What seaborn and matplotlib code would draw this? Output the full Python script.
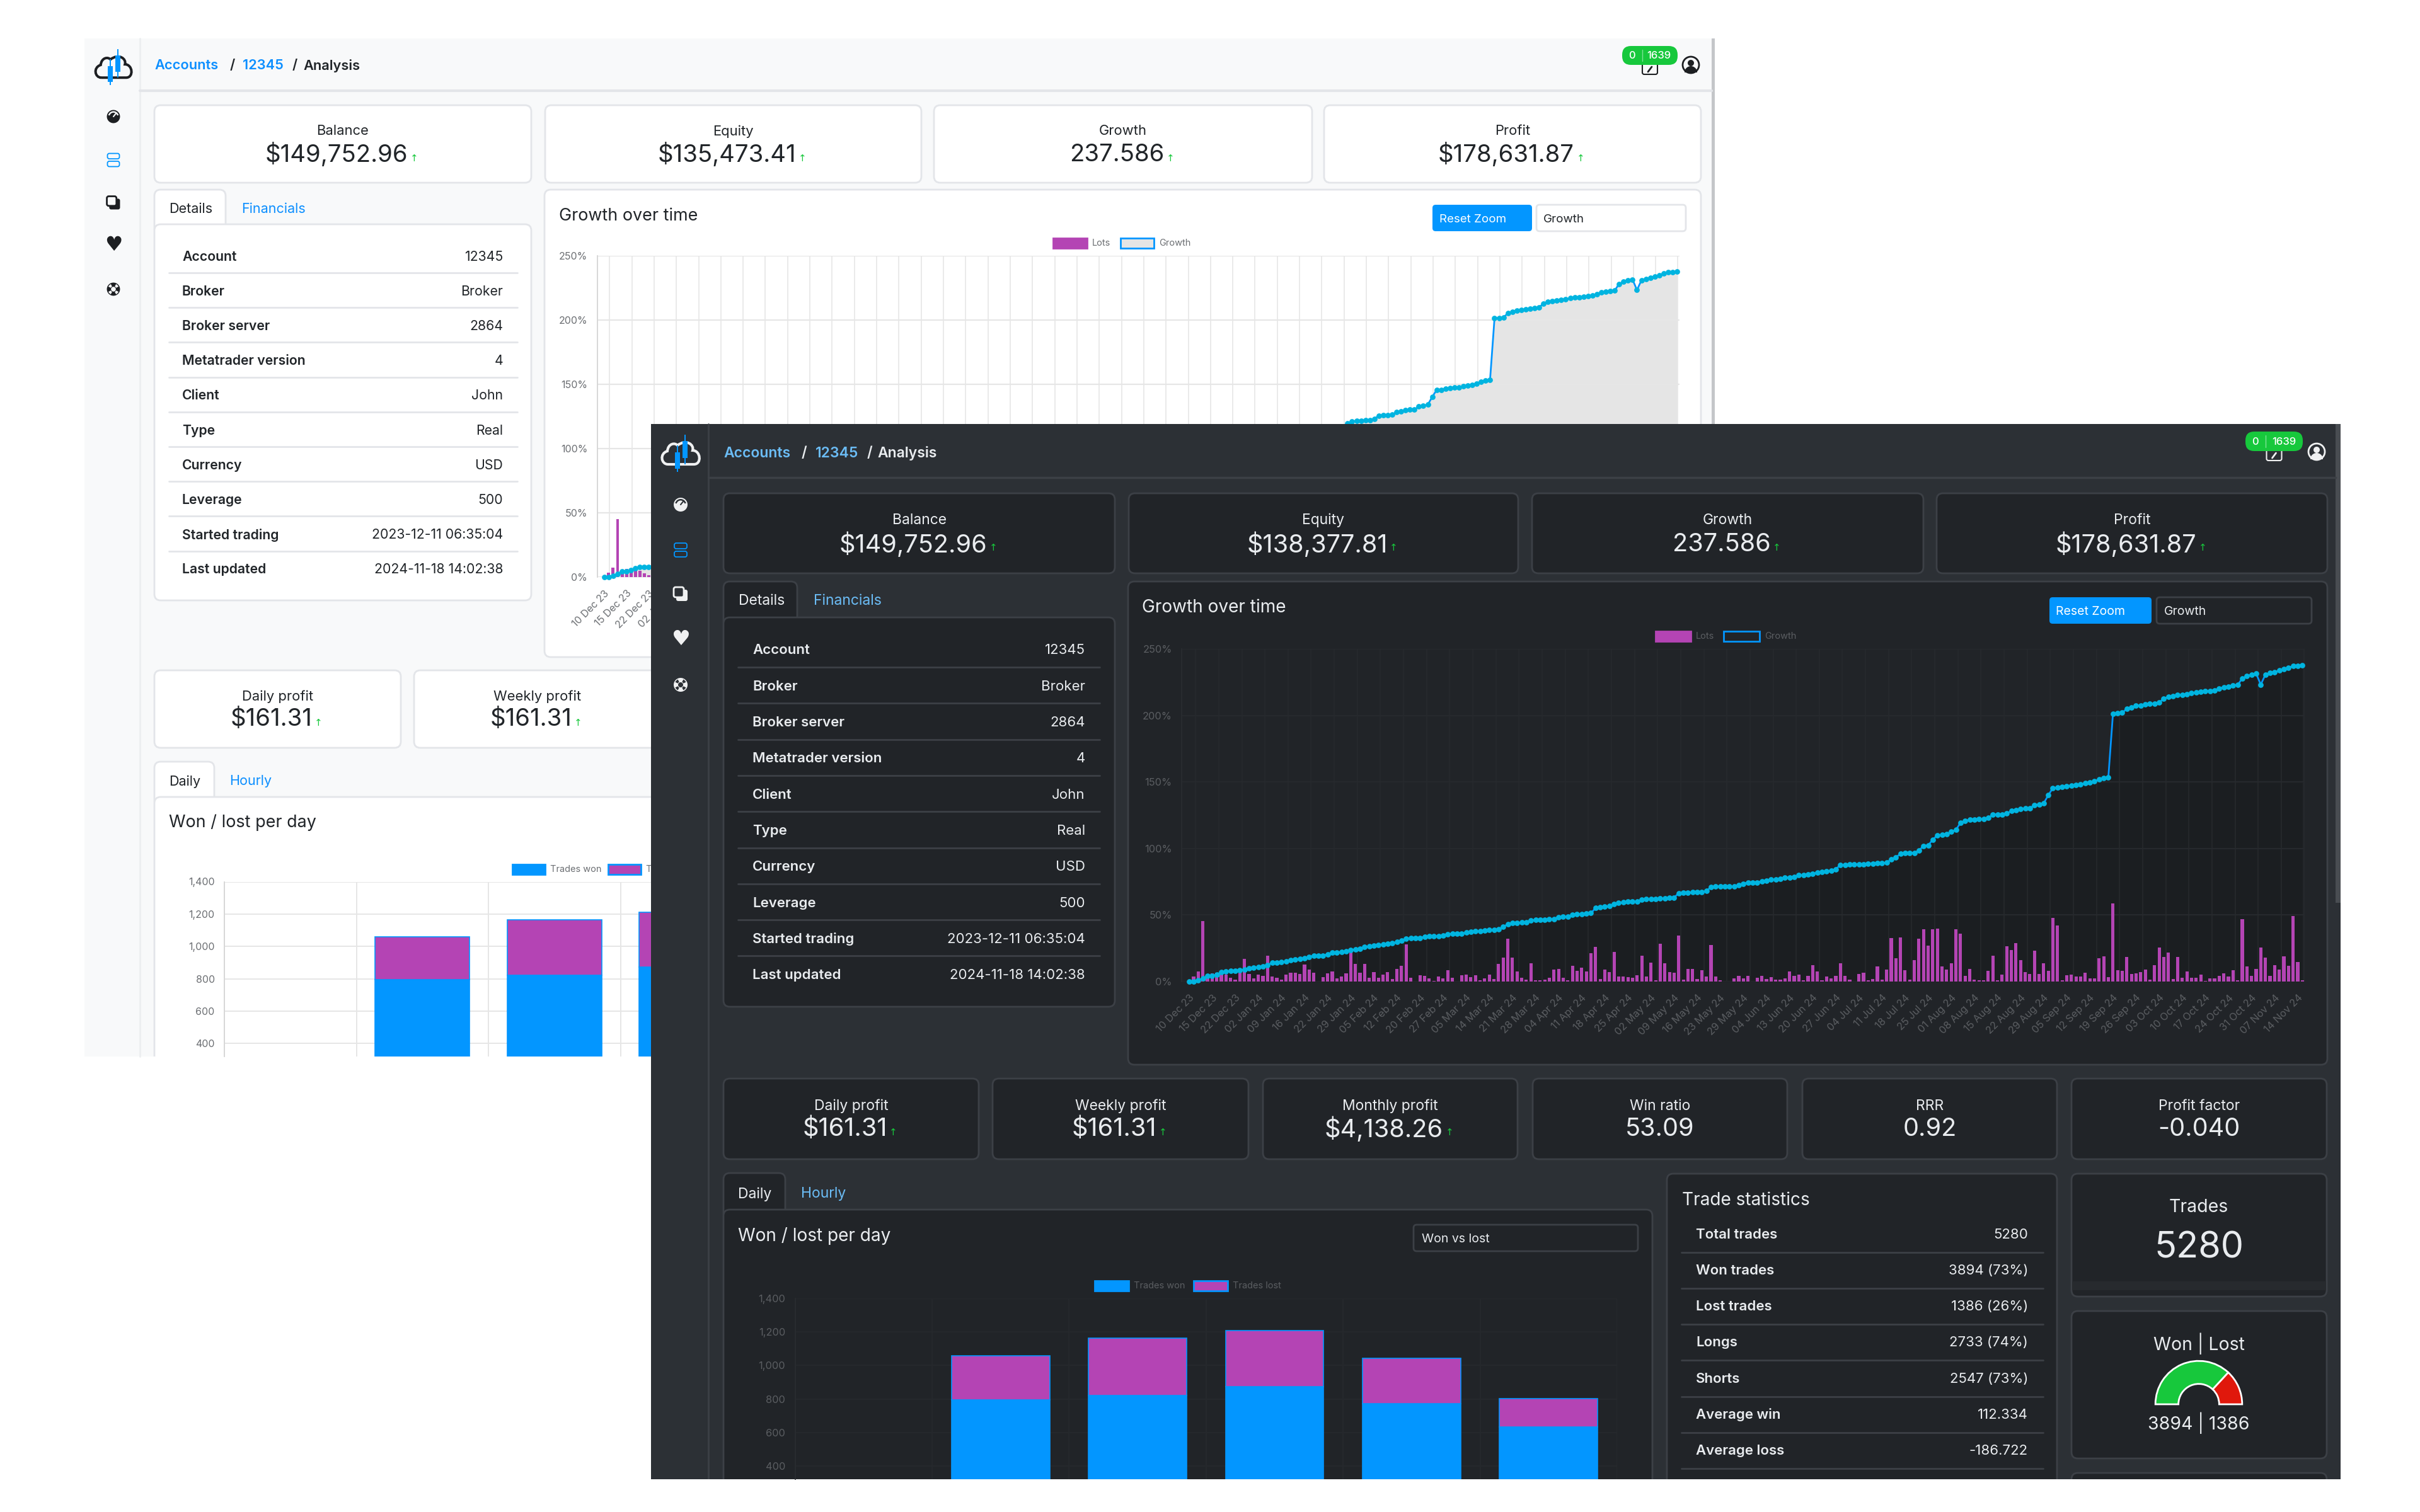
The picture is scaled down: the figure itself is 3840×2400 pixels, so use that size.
import numpy as np
import matplotlib
matplotlib.use('Agg')
import matplotlib.pyplot as plt
import seaborn as sns
from matplotlib.patches import FancyBboxPatch, Rectangle, Circle, Wedge, PathPatch
from matplotlib.path import Path

W, H = 3840, 2400

# Lots per trading day (read against the 0-250% scale of the chart)
lots = [
    0, 3.6, 7.4, 45.3, 3.5, 6.3, 6.8, 7.7, 5.0, 2.7,
    1.4, 6.6, 17.2, 5.7, 2.5, 5.4, 4.3, 19.6, 3.9, 2.7,
    1.6, 5.2, 6.5, 6.5, 5.7, 12.8, 8.8, 6.8, 0.1, 3.3,
    6.2, 7.4, 2.5, 3.8, 6.0, 21.9, 13.1, 6.5, 13.1, 2.7,
    6.9, 3.0, 5.2, 7.1, 1.7, 9.3, 11.7, 27.8, 2.8, 0.1,
    4.7, 4.1, 2.2, 0.3, 3.9, 2.2, 8.4, 2.7, 0.1, 4.6,
    5.4, 3.5, 4.9, 1.0, 2.5, 5.2, 1.7, 13.2, 17.8, 32.3,
    17.8, 7.6, 3.0, 1.3, 13.7, 0.8, 0.9, 1.6, 3.0, 8.8,
    9.6, 2.8, 0.9, 11.7, 7.9, 10.3, 7.4, 21.1, 26.2, 1.7,
    8.8, 7.1, 22.1, 3.6, 3.6, 3.3, 2.7, 4.9, 19.2, 3.6,
    14.0, 0.8, 28.2, 13.6, 6.9, 6.5, 34.7, 1.4, 9.3, 9.5,
    1.7, 8.5, 3.9, 27.6, 3.6, 1.1, 0, 0, 2.4, 4.3,
    2.5, 4.3, 0, 3.0, 4.4, 2.0, 3.5, 1.3, 1.3, 2.2,
    7.4, 4.2, 5.2, 0.8, 4.1, 12.4, 7.5, 1.1, 3.8, 2.2,
    4.1, 13.5, 4.4, 1.6, 0.1, 5.7, 6.4, 1.1, 1.7, 11.2,
    1.6, 9.1, 32.9, 17.6, 33.0, 8.6, 1.4, 15.9, 32.4, 39.2,
    27.0, 39.5, 40.0, 11.5, 9.0, 13.9, 39.3, 36.0, 4.2, 9.3,
    1.4, 1.1, 0.8, 8.2, 19.4, 0.9, 5.0, 26.7, 23.9, 29.1,
    15.9, 6.9, 5.7, 23.0, 5.8, 13.5, 7.9, 47.6, 42.1, 0.8,
    4.9, 5.3, 3.6, 3.6, 6.8, 2.4, 2.4, 17.3, 18.9, 3.1,
    58.5, 8.3, 7.9, 18.4, 5.8, 6.3, 7.1, 8.8, 1.4, 12.2,
    25.8, 18.7, 22.0, 1.7, 18.4, 2.7, 7.5, 3.0, 2.7, 5.3,
    0.6, 2.2, 2.2, 4.1, 6.0, 3.6, 8.6, 1.1, 47.0, 11.5,
    4.1, 9.7, 25.8, 17.8, 4.1, 12.1, 9.1, 18.9, 11.8, 49.1,
    14.9, 1.1,
]

# Growth in percent per trading day
growth = [
    0, 0.2, 1.0, 2.5, 4.2, 4.4, 5.2, 7.0, 7.7, 7.9,
    8.0, 8.3, 9.2, 10.0, 10.3, 11.0, 11.5, 12.3, 14.2, 14.3,
    14.5, 15.2, 16.3, 16.8, 17.0, 17.3, 18.4, 19.6, 19.2, 19.4,
    20.5, 21.7, 21.9, 22.3, 22.5, 23.9, 24.0, 24.4, 26.0, 26.3,
    27.0, 27.5, 27.9, 28.4, 28.9, 29.6, 31.0, 32.2, 32.5, 32.7,
    32.9, 33.5, 33.9, 34.0, 34.2, 34.5, 35.5, 36.0, 36.0, 36.2,
    36.8, 37.2, 37.8, 37.9, 38.4, 38.8, 38.9, 39.1, 41.0, 43.2,
    43.8, 44.0, 44.4, 44.5, 46.0, 46.2, 46.2, 46.5, 46.7, 47.1,
    48.5, 48.7, 48.8, 50.0, 50.5, 50.8, 51.2, 51.4, 55.2, 55.7,
    56.2, 56.6, 58.3, 59.0, 59.5, 59.9, 60.0, 60.3, 61.5, 61.8,
    62.0, 62.1, 62.3, 62.5, 62.9, 63.1, 66.4, 66.6, 66.8, 67.0,
    67.1, 67.3, 68.0, 71.1, 71.5, 71.5, 71.4, 71.3, 71.5, 72.3,
    73.5, 74.5, 74.5, 74.5, 75.5, 75.8, 76.5, 76.9, 77.0, 78.0,
    78.3, 78.8, 79.8, 80.0, 80.4, 81.1, 81.8, 82.2, 82.8, 83.4,
    84.5, 87.5, 87.8, 88.0, 88.0, 88.2, 88.3, 88.6, 88.7, 88.9,
    89.1, 89.4, 91.8, 93.3, 96.0, 96.7, 96.7, 96.8, 98.4, 102.0,
    102.4, 106.6, 110.0, 110.2, 110.7, 112.5, 114.0, 119.3, 120.8, 121.5,
    121.7, 122.0, 122.2, 123.0, 125.5, 125.7, 125.7, 126.2, 128.3, 129.0,
    129.7, 130.2, 130.3, 132.5, 133.2, 134.0, 140.0, 145.5, 145.7, 146.4,
    147.0, 147.2, 147.6, 148.3, 149.0, 149.5, 150.4, 152.0, 152.8, 153.5,
    201.3, 201.5, 202.0, 205.0, 206.2, 207.2, 207.6, 208.3, 208.8, 209.0,
    209.7, 212.6, 214.0, 214.4, 215.2, 215.6, 216.1, 216.8, 217.3, 217.7,
    218.2, 218.5, 218.9, 220.1, 221.3, 221.8, 222.5, 222.9, 227.9, 229.5,
    230.7, 231.4, 223.2, 230.7, 231.9, 232.6, 233.8, 234.7, 235.9, 237.0,
    237.3, 237.5,
]

date_labels = [
    '10 Dec 23', '15 Dec 23', '22 Dec 23', '02 Jan 24', '09 Jan 24', '16 Jan 24', '22 Jan 24',
    '29 Jan 24', '05 Feb 24', '12 Feb 24', '20 Feb 24', '27 Feb 24', '05 Mar 24', '14 Mar 24',
    '21 Mar 24', '28 Mar 24', '04 Apr 24', '11 Apr 24', '18 Apr 24', '25 Apr 24', '02 May 24',
    '09 May 24', '16 May 24', '23 May 24', '29 May 24', '04 Jun 24', '13 Jun 24', '20 Jun 24',
    '27 Jun 24', '04 Jul 24', '11 Jul 24', '18 Jul 24', '25 Jul 24', '01 Aug 24', '08 Aug 24',
    '15 Aug 24', '22 Aug 24', '29 Aug 24', '05 Sep 24', '12 Sep 24', '19 Sep 24', '26 Sep 24',
    '03 Oct 24', '10 Oct 24', '17 Oct 24', '24 Oct 24', '31 Oct 24', '07 Nov 24', '14 Nov 24',
]
growth_ticks = [0, 50, 100, 150, 200, 250]

# Won / lost per weekday (first slot is empty in the screenshot)
weekdays = ['Sun', 'Mon', 'Tue', 'Wed', 'Thu', 'Fri']
trades_won = [0, 793, 822, 873, 772, 634]
trades_lost = [0, 266, 342, 337, 270, 168]
count_ticks = [400, 600, 800, 1000, 1200, 1400]

# Won | Lost gauge
gauge_won = 3894
gauge_lost = 1386

detail_rows = [
    ('Account', '12345'), ('Broker', 'Broker'), ('Broker server', '2864'),
    ('Metatrader version', '4'), ('Client', 'John'), ('Type', 'Real'), ('Currency', 'USD'),
    ('Leverage', '500'), ('Started trading', '2023-12-11 06:35:04'),
    ('Last updated', '2024-11-18 14:02:38'),
]
stat_rows = [
    ('Total trades', '5280'), ('Won trades', '3894 (73%)'), ('Lost trades', '1386 (26%)'),
    ('Longs', '2733 (74%)'), ('Shorts', '2547 (73%)'), ('Average win', '112.334'),
    ('Average loss', '-186.722'),
]
light_top = [('Balance', '$149,752.96'), ('Equity', '$135,473.41'), ('Growth', '237.586'), ('Profit', '$178,631.87')]
dark_top = [('Balance', '$149,752.96'), ('Equity', '$138,377.81'), ('Growth', '237.586'), ('Profit', '$178,631.87')]
light_row2 = [('Daily profit', '$161.31', True), ('Weekly profit', '$161.31', True)]
dark_row2 = [('Daily profit', '$161.31', True), ('Weekly profit', '$161.31', True),
             ('Monthly profit', '$4,138.26', True), ('Win ratio', '53.09', False),
             ('RRR', '0.92', False), ('Profit factor', '-0.040', False)]

BLUE = '#0396ff'
PURPLE = '#b444b4'
CYAN = '#00b4e0'
GREEN = '#17c83c'
LIGHT = dict(page='#f8f9fa', card='#ffffff', border='#e3e5e9', text='#212529', link='#0d8fff',
             muted='#6c6f73', grid='#e6e6e6', axis='#d5d5d5', fg='#1d1f22', scroll='#c4c6c9', fill=0.1)
DARK = dict(page='#2c3035', card='#212428', border='#3c4046', text='#e9ecef', link='#6bbcf5',
            muted='#5b5e62', grid='#26292d', axis='#292c30', fg='#f0f1f2', scroll='#494d52', fill=0.16)

sns.set_theme(style='white')
plt.rcParams['font.family'] = ['Inter', 'DejaVu Sans']

fig = plt.figure(figsize=(W / 100, H / 100), dpi=100, facecolor='white')


def px_axes(x0, y0, x1, y1, zorder):
    ax = fig.add_axes([x0 / W, 1 - y1 / H, (x1 - x0) / W, (y1 - y0) / H], zorder=zorder)
    ax.set_facecolor('none')
    return ax


def canvas(zorder):
    ax = px_axes(0, 0, W, H, zorder)
    ax.set_xlim(0, W)
    ax.set_ylim(H, 0)
    ax.axis('off')
    return ax


def text(ax, x, y, s, size, color, ha='left', weight='normal'):
    return ax.text(x, y + 2.5, s, fontsize=size, color=color, ha=ha, va='center', fontweight=weight)


def box(ax, x0, y0, x1, y1, fc, ec='none', r=10, lw=2):
    ax.add_patch(FancyBboxPatch((x0, y0), x1 - x0, y1 - y0, boxstyle=f'round,pad=0,rounding_size={r}',
                                fc=fc, ec=ec, lw=lw))


def stat_card(ax, x0, y0, x1, y1, label, value, label_y, value_y, t, fs, arrow=True):
    box(ax, x0, y0, x1, y1, t['card'], t['border'])
    cx = (x0 + x1) / 2
    text(ax, cx, label_y, label, fs[0], t['text'], ha='center')
    vx = cx - 10 if arrow else cx
    v = text(ax, vx, value_y, value, fs[1], t['text'], ha='center')
    if arrow:
        bb = v.get_window_extent(fig.canvas.get_renderer())
        ax.text(bb.x1 + 10, value_y + 8, '\u2191', fontsize=11, color=GREEN, ha='center', va='center',
                family='DejaVu Sans')


def rows(ax, items, x_label, x_value, y_first, step, t, size):
    for i, (k, v) in enumerate(items):
        y = y_first + i * step - 2
        text(ax, x_label, y, k, size, t['text'], weight='semibold')
        text(ax, x_value, y, v, size, t['text'], ha='right')


def row_lines(ax, ys, x0, x1, t):
    for y in ys:
        ax.plot([x0, x1], [y, y], color=t['border'], lw=2)


def logo(ax, cx, cy, s, line):
    verts = [(-20, 19), (-31, 19), (-34, 2), (-21, -2), (-20, -14), (-9, -16), (-5, -11),
             (9, -22), (22, -12), (19, -3), (32, -3), (34, 19), (21, 19), (-20, 19)]
    verts = [(cx + a * s, cy + b * s) for a, b in verts]
    codes = [Path.MOVETO, Path.CURVE4, Path.CURVE4, Path.CURVE4, Path.CURVE4, Path.CURVE4, Path.CURVE4,
             Path.CURVE4, Path.CURVE4, Path.CURVE4, Path.CURVE4, Path.CURVE4, Path.CURVE4, Path.LINETO]
    ax.add_patch(PathPatch(Path(verts, codes), fc='none', ec=line, lw=3 * s))
    for dx, w0, b0, b1, w1 in [(-5, -11, 0, 26, 31), (7, -28, -18, 9, 19)]:
        ax.add_patch(Rectangle((cx + (dx - 1) * s, cy + w0 * s), 2 * s, (w1 - w0) * s, fc=BLUE, ec='none'))
        ax.add_patch(Rectangle((cx + (dx - 4) * s, cy + b0 * s), 8 * s, (b1 - b0) * s, fc=BLUE, ec='none'))


def side_icons(ax, x, ys, t, s):
    fg, bg = t['fg'], t['page']
    # gauge
    ax.add_patch(Circle((x, ys[0]), 11 * s, fc=fg, ec='none'))
    ax.add_patch(Wedge((x, ys[0]), 9 * s, 195, 345, width=2.5 * s, fc=bg, ec='none'))
    ax.plot([x, x + 4 * s], [ys[0], ys[0] - 5 * s], color=bg, lw=1.5)
    # two stacked rows
    for off in (-11, 2):
        box(ax, x - 10 * s, ys[1] + off * s, x + 10 * s, ys[1] + (off + 9) * s, 'none', BLUE, r=3, lw=1.3)
    # overlapping squares
    box(ax, x - 7 * s, ys[2] - 7 * s, x + 11 * s, ys[2] + 11 * s, fg, 'none', r=3)
    box(ax, x - 11 * s, ys[2] - 11 * s, x + 5 * s, ys[2] + 5 * s, bg, fg, r=3, lw=2)
    # heart with pulse
    ax.text(x, ys[3], '\u2665', fontsize=24 * s, color=fg, ha='center', va='center', family='DejaVu Sans')
    ax.plot(np.array([-9, -3, 0, 3, 9]) * s + x, np.array([-1, -1, -5, 3, -1]) * s + ys[3], color=bg, lw=1.3)
    # lifebuoy
    ax.add_patch(Circle((x, ys[4]), 11 * s, fc=fg, ec='none'))
    ax.add_patch(Circle((x, ys[4]), 4 * s, fc=bg, ec='none'))
    for a in (45, 135, 225, 315):
        ax.add_patch(Wedge((x, ys[4]), 9.5 * s, a - 18, a + 18, width=4.5 * s, fc=bg, ec='none'))


def top_right(ax, px0, px1, py0, py1, ux, uy, t):
    nx = px0 + 0.5 * (px1 - px0)
    box(ax, nx - 12, py1 - 6, nx + 12, py1 + 15, 'none', t['fg'], r=3, lw=1.5)
    ax.plot([nx - 3, nx + 3], [py1 + 11, py1 + 3], color=t['fg'], lw=2)
    box(ax, px0, py0, px1, py1, GREEN, r=14)
    text(ax, px0 + 15, (py0 + py1) / 2 - 2, '0', 12, 'white', ha='center', weight='medium')
    ax.plot([px0 + 32, px0 + 32], [py0 + 6, py1 - 6], color='#7fe297', lw=1)
    text(ax, px1 - 30, (py0 + py1) / 2 - 2, '1639', 12, 'white', ha='center', weight='medium')
    ax.add_patch(Circle((ux, uy), 13, fc='none', ec=t['fg'], lw=2))
    ax.add_patch(Circle((ux, uy - 3), 5, fc=t['fg'], ec='none'))
    ax.add_patch(Wedge((ux, uy + 12), 10, 180, 360, fc=t['fg'], ec='none'))


def legend_entry(ax, x0, x1, y, h, fc, ec, label, t, size):
    ax.add_patch(Rectangle((x0, y - h / 2), x1 - x0, h, fc=fc, ec=ec, lw=2))
    ax.text(x1 + 8, y, label, fontsize=size, color=t['muted'], va='center')


def growth_chart(x0, y0, x1, y1, first_grid, t, size, zorder):
    ax = px_axes(x0, y0, x1, y1, zorder)
    days = np.arange(len(lots))
    ax.fill_between(days, growth, color='black', alpha=t['fill'], lw=0, zorder=0.5)
    sns.barplot(x=days, y=lots, native_scale=True, color=PURPLE, saturation=1, width=0.7, linewidth=0,
                edgecolor='none', ax=ax, zorder=2)
    sns.lineplot(x=days, y=growth, color=BLUE, linewidth=2, marker='o', markersize=6.3, markeredgewidth=0,
                 markerfacecolor=CYAN, clip_on=False, ax=ax, zorder=3)
    ax.set_xlim(-1.6, 241.5)
    ax.set_ylim(0, 250)
    ax.set_xticks(np.arange(len(date_labels)) * 5)
    ax.set_xticklabels(date_labels, rotation=45, ha='right', rotation_mode='anchor', fontsize=size,
                       color=t['muted'])
    ax.set_xticks(first_grid + np.arange(len(date_labels)) * 5, minor=True)
    ax.set_yticks(growth_ticks)
    ax.set_yticklabels([f'{v}%' for v in growth_ticks], fontsize=size, color=t['muted'])
    ax.set_axisbelow(True)
    ax.grid(True, axis='y', color=t['grid'], lw=1.6)
    ax.grid(True, axis='x', which='minor', color=t['grid'], lw=1.2)
    ax.tick_params(axis='x', which='major', length=0, pad=13)
    ax.tick_params(axis='x', which='minor', length=0)
    ax.tick_params(axis='y', length=7, width=1.2, color=t['grid'], pad=4)
    ax.set_xlabel('')
    ax.set_ylabel('')
    sns.despine(ax=ax, top=True, right=True, bottom=True, left=False)
    ax.spines['left'].set_color(t['axis'])
    ax.spines['left'].set_linewidth(1.3)
    return ax


def won_lost_chart(x0, y0, x1, y1, y_min, t, size, zorder):
    ax = px_axes(x0, y0, x1, y1, zorder)
    sns.barplot(x=weekdays, y=trades_won, color=BLUE, saturation=1, width=0.717, edgecolor=BLUE,
                linewidth=1.2, ax=ax, zorder=2)
    sns.barplot(x=weekdays, y=trades_lost, bottom=trades_won, color=PURPLE, saturation=1, width=0.717,
                edgecolor=BLUE, linewidth=1.2, ax=ax, zorder=2)
    ax.set_xlim(-0.5, 5.5)
    ax.set_ylim(y_min, 1400)
    ax.set_yticks(count_ticks)
    ax.set_yticklabels([f'{v:,}' for v in count_ticks], fontsize=size, color=t['muted'])
    ax.set_xticks(np.arange(7) - 0.5)
    ax.set_xticklabels([])
    ax.set_axisbelow(True)
    ax.grid(True, axis='both', color=t['grid'], lw=1.4)
    ax.tick_params(axis='x', length=0)
    ax.tick_params(axis='y', length=7, width=1.2, color=t['grid'], pad=4)
    ax.set_xlabel('')
    ax.set_ylabel('')
    sns.despine(ax=ax, top=True, right=True, bottom=True, left=False)
    ax.spines['left'].set_color(t['axis'])
    ax.spines['left'].set_linewidth(1.3)
    return ax


# ---------- light window ----------
bg = canvas(1)
t = LIGHT
bg.add_patch(Rectangle((134, 61), 2587, 1616, fc=t['page'], ec='none'))
bg.add_patch(Rectangle((2716, 61), 5, 1616, fc=t['scroll'], ec='none'))
bg.plot([222, 222], [61, 1677], color='#eceef0', lw=2)
bg.plot([222, 2716], [144, 144], color=t['border'], lw=3)
logo(bg, 180, 105, 0.96, t['fg'])
side_icons(bg, 180, [185, 254, 322, 389, 459], t, 0.95)
text(bg, 245, 102, 'Accounts', 15.7, t['link'], weight='semibold')
text(bg, 365, 102, '/', 15.7, t['text'], weight='semibold')
text(bg, 385, 102, '12345', 15.7, t['link'], weight='semibold')
text(bg, 464, 102, '/', 15.7, t['text'], weight='semibold')
text(bg, 481, 102, 'Analysis', 15.7, t['text'], weight='semibold')
top_right(bg, 2574, 2662, 73, 103, 2683, 103, t)

for (x0, x1), (label, value) in zip([(245, 843), (865, 1462), (1482, 2082), (2101, 2699)], light_top):
    stat_card(bg, x0, 167, x1, 290, label, value, 206, 243, t, (15.8, 27.6))

box(bg, 245, 301, 358, 372, t['card'], t['border'])
text(bg, 268, 330, 'Details', 15.5, t['text'])
text(bg, 383, 330, 'Financials', 15.5, t['link'])
box(bg, 245, 356, 843, 953, t['card'], t['border'])
rows(bg, detail_rows, 289, 798, 407, 55.2, t, 15.3)
row_lines(bg, [433 + i * 55.2 for i in range(9)], 268, 821, t)

box(bg, 864, 301, 2699, 1043, t['card'], t['border'])
text(bg, 887, 340, 'Growth over time', 19.4, t['text'])
box(bg, 2273, 325, 2431, 367, BLUE, r=5)
text(bg, 2284, 346, 'Reset Zoom', 13.5, 'white')
box(bg, 2438, 325, 2675, 367, t['card'], t['border'], r=5)
text(bg, 2449, 346, 'Growth', 13.5, t['text'])
legend_entry(bg, 1671, 1725, 386, 16, PURPLE, PURPLE, 'Lots', t, 10.5)
legend_entry(bg, 1778, 1831, 386, 16, '#e5e5e5', BLUE, 'Growth', t, 10.5)
growth_chart(947.5, 405.6, 2664.6, 916, 1.2, t, 11.5, 2)

for (x0, x1), (label, value, up) in zip([(245, 636), (657, 1048)], light_row2):
    stat_card(bg, x0, 1064, x1, 1187, label, value, 1103, 1139, t, (15.8, 27.6), up)
box(bg, 245, 1209, 340, 1280, t['card'], t['border'])
text(bg, 268, 1238, 'Daily', 15.5, t['text'])
text(bg, 364, 1238, 'Hourly', 15.5, t['link'])
box(bg, 245, 1265, 1700, 1720, t['card'], t['border'])
text(bg, 268, 1303, 'Won / lost per day', 19.4, t['text'])
legend_entry(bg, 813, 865, 1380, 16, BLUE, BLUE, 'Trades won', t, 10.5)
legend_entry(bg, 965, 1017, 1380, 16, PURPLE, BLUE, 'Trades lost', t, 10.5)
bg.add_patch(Rectangle((0, 1677), 1033, 60, fc='white', ec='none'))
won_lost_chart(356, 1399.5, 1613, 1677, 320, t, 11.5, 2)

# ---------- dark window ----------
fg = canvas(3)
t = DARK
fg.add_patch(Rectangle((1033, 673), 2681, 1675, fc=t['page'], ec='none'))
fg.add_patch(Rectangle((3706, 673), 8, 760, fc=t['scroll'], ec='none'))
fg.plot([1124, 1124], [673, 2348], color=t['border'], lw=2)
fg.plot([1124, 3706], [758, 758], color=t['border'], lw=2.5)
logo(fg, 1080, 718, 1.0, t['fg'])
side_icons(fg, 1080, [801, 873, 943, 1014, 1087], t, 1.0)
text(fg, 1148, 717, 'Accounts', 16.5, t['link'], weight='semibold')
text(fg, 1272, 717, '/', 16.5, t['text'], weight='semibold')
text(fg, 1294, 717, '12345', 16.5, t['link'], weight='semibold')
text(fg, 1376, 717, '/', 16.5, t['text'], weight='semibold')
text(fg, 1392, 717, 'Analysis', 16.5, t['text'], weight='semibold')
top_right(fg, 3563, 3654, 685, 716, 3676, 717, t)

for (x0, x1), (label, value) in zip([(1148, 1769), (1791, 2409), (2431, 3052), (3073, 3693)], dark_top):
    stat_card(fg, x0, 783, x1, 910, label, value, 823, 862, t, (16.5, 28.6))

box(fg, 1148, 923, 1265, 996, t['card'], t['border'])
text(fg, 1172, 951, 'Details', 16.5, t['text'])
text(fg, 1291, 951, 'Financials', 16.5, t['link'])
box(fg, 1148, 980, 1769, 1598, t['card'], t['border'])
rows(fg, detail_rows, 1194, 1722, 1032, 57.3, t, 16)
row_lines(fg, [1059 + i * 57.3 for i in range(9)], 1171, 1745, t)

box(fg, 1790, 923, 3693, 1690, t['card'], t['border'])
text(fg, 1812, 962, 'Growth over time', 20.2, t['text'])
box(fg, 3252, 948, 3414, 990, BLUE, r=5)
text(fg, 3262, 969, 'Reset Zoom', 14, 'white')
box(fg, 3422, 948, 3668, 990, t['card'], t['border'], r=5)
text(fg, 3434, 969, 'Growth', 14, t['text'])
legend_entry(fg, 2627, 2683, 1010, 16, PURPLE, PURPLE, 'Lots', t, 10.5)
legend_entry(fg, 2735, 2792, 1010, 16, t['card'], BLUE, 'Growth', t, 10.5)
growth_chart(1875, 1030, 3657, 1558, 1.43, t, 11.8, 4)

row2_x = [(1148, 1553), (1575, 1981), (2004, 2408), (2432, 2836), (2860, 3264), (3287, 3692)]
for (x0, x1), (label, value, up) in zip(row2_x, dark_row2):
    stat_card(fg, x0, 1712, x1, 1840, label, value, 1753, 1790, t, (16.5, 28.6), up)

box(fg, 1148, 1862, 1246, 1936, t['card'], t['border'])
text(fg, 1171, 1893, 'Daily', 16.5, t['text'])
text(fg, 1271, 1893, 'Hourly', 16.5, t['link'])
box(fg, 1148, 1920, 2622, 2400, t['card'], t['border'])
text(fg, 1171, 1959, 'Won / lost per day', 20.2, t['text'])
box(fg, 2243, 1944, 2599, 1986, t['card'], t['border'], r=5)
text(fg, 2256, 1965, 'Won vs lost', 14, t['text'])
legend_entry(fg, 1737, 1791, 2041, 16, BLUE, BLUE, 'Trades won', t, 10.5)
legend_entry(fg, 1894, 1948, 2041, 16, PURPLE, BLUE, 'Trades lost', t, 10.5)
won_lost_chart(1261.5, 2061, 2566, 2348, 321, t, 11.8, 4)

box(fg, 2645, 1863, 3264, 2400, t['card'], t['border'])
text(fg, 2669, 1903, 'Trade statistics', 20.2, t['text'])
rows(fg, stat_rows, 2691, 3218, 1959, 57.3, t, 16)
row_lines(fg, [1987.5 + i * 57.3 for i in range(7)], 2668, 3242, t)

box(fg, 3287, 1863, 3692, 2058, t['card'], t['border'])
fg.add_patch(Rectangle((3288, 2034), 403, 14, fc='#272a2e', ec='none'))
text(fg, 3489, 1914, 'Trades', 20.5, t['text'], ha='center')
text(fg, 3489, 1979, '5280', 41.5, t['text'], ha='center')
box(fg, 3287, 2081, 3692, 2315, t['card'], t['border'])
text(fg, 3489, 2130, 'Won | Lost', 20.5, t['text'], ha='center')
text(fg, 3489, 2256, f'{gauge_won} | {gauge_lost}', 20.5, t['text'], ha='center')
box(fg, 3287, 2338, 3692, 2400, t['card'], t['border'])

# anything below the screenshot stays white
fg.add_patch(Rectangle((1033, 2348), 2681, 52, fc='white', ec='none', zorder=10))

gauge = px_axes(3414, 2154, 3564, 2304, 4)
gauge.pie([gauge_lost, gauge_won, gauge_won + gauge_lost], colors=['#e0180c', GREEN, 'none'], startangle=0,
          counterclock=True, radius=1.0,
          wedgeprops=dict(width=0.53, edgecolor='white', linewidth=2))
gauge.patches[2].set_edgecolor('none')
gauge.set_xlim(-1.09, 1.09)
gauge.set_ylim(-1.09, 1.09)

fig.savefig('out.png', dpi=100, facecolor='white')
